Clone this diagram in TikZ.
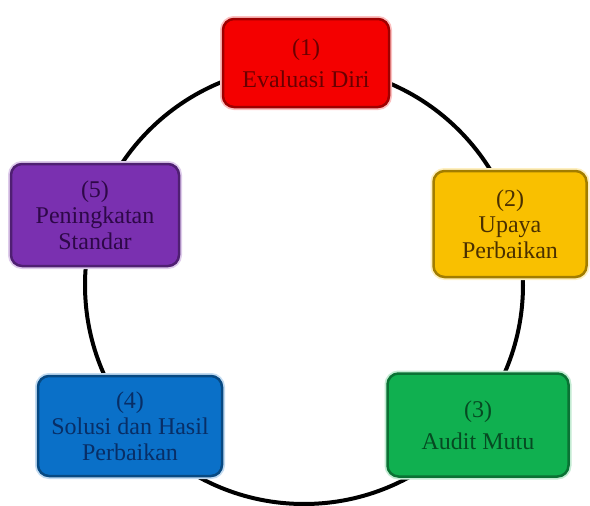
\documentclass[tikz,border=0pt]{standalone}
\usepackage{fontspec}
\setmainfont{Liberation Serif}
\definecolor{cred}{HTML}{F40000}
\definecolor{cyel}{HTML}{F9C000}
\definecolor{cpur}{HTML}{7A30B0}
\definecolor{cgrn}{HTML}{10B050}
\definecolor{cblu}{HTML}{0A70C8}
\definecolor{tred}{HTML}{6A0000}
\definecolor{tyel}{HTML}{4A3000}
\definecolor{tpur}{HTML}{2E0848}
\definecolor{tgrn}{HTML}{064A22}
\definecolor{tblu}{HTML}{082E66}
\tikzset{
  stagebox/.style n args={3}{rectangle, rounded corners=11pt, fill=#1, draw=#1!65!black,
    line width=2.5pt, align=center, font=\fontsize{24}{26}\selectfont, text=#2,
    preaction={draw=#1!25, line width=6pt}, inner sep=2pt, minimum width=#3},
  ring/.style={circle, draw=black, line width=4pt, minimum size=438pt, inner sep=0pt}
}
\begin{document}
\begin{tikzpicture}[x=1pt,y=-1pt]
\useasboundingbox (0,0) rectangle (590,506);
\node[ring] (cycle) at (304,285) {};
\node[stagebox={cred}{tred}{166pt}, minimum height=88pt] (s1) at (306,63) {(1)\\[6pt]Evaluasi Diri};
\node[stagebox={cyel}{tyel}{153pt}, minimum height=106pt] (s2) at (510,224) {(2)\\Upaya\\Perbaikan};
\node[stagebox={cgrn}{tgrn}{181pt}, minimum height=103pt] (s3) at (478,425) {(3)\\[6pt]Audit Mutu};
\node[stagebox={cblu}{tblu}{184pt}, minimum height=100pt] (s4) at (130,426) {(4)\\Solusi dan Hasil\\Perbaikan};
\node[stagebox={cpur}{tpur}{168pt}, minimum height=102pt] (s5) at (95,215) {(5)\\Peningkatan\\Standar};
\end{tikzpicture}
\end{document}
